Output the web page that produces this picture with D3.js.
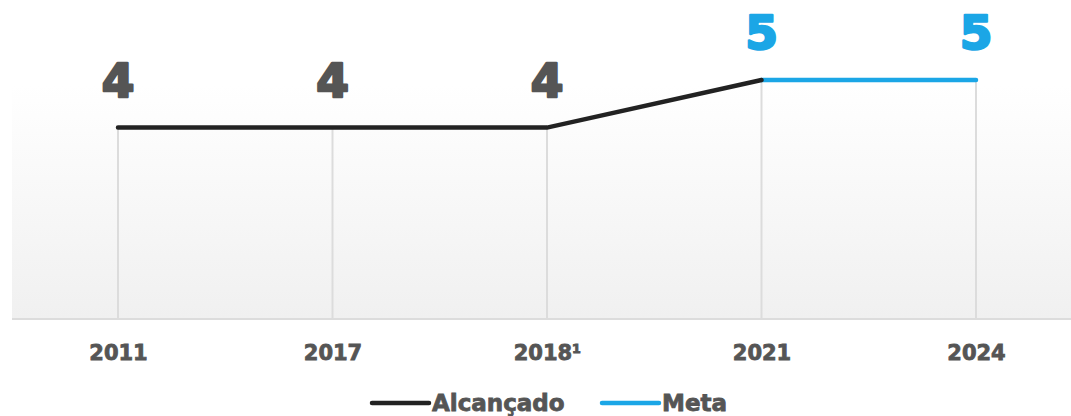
<!DOCTYPE html>
<html>
<head>
<meta charset="utf-8">
<script src="https://cdn.jsdelivr.net/npm/d3@7"></script>
<style>
  body { margin: 0; background: #fff; }
  text { font-family: "DejaVu Sans", "Open Sans", sans-serif; }
</style>
</head>
<body>
<div id="plot"></div>
<script>
var width = 1071, height = 416;

// data
var years = ['2011', '2017', '2018\u00B9', '2021', '2024'];
var alcancado = [4, 4, 4, 5, null];
var meta = [null, null, null, 5, 5];
var legendLabels = ['Alcançado', 'Meta'];
var colors = {alcancado: '#222222', meta: '#1ba6e6', text: '#555555', grid: '#dcdcdc'};

var svg = d3.select('#plot')
  .append('svg')
  .attr('width', width)
  .attr('height', height);

var x = d3.scalePoint()
  .domain(years)
  .range([118, 976]);

var y = d3.scaleLinear()
  .domain([0, 5])
  .range([318, 80]);

// soft grey panel behind the lines
var grad = svg.append('defs').append('linearGradient')
  .attr('id', 'bg')
  .attr('x1', 0).attr('y1', 0).attr('x2', 0).attr('y2', 1);
grad.append('stop').attr('offset', '0%').attr('stop-color', '#ffffff');
grad.append('stop').attr('offset', '100%').attr('stop-color', '#f0f0f0');

svg.append('rect')
  .attr('x', 12)
  .attr('y', 85)
  .attr('width', width - 12)
  .attr('height', y(0) + 1 - 85)
  .attr('fill', 'url(#bg)');

// baseline
svg.append('line')
  .attr('x1', 12).attr('x2', width)
  .attr('y1', y(0) + 1).attr('y2', y(0) + 1)
  .attr('stroke', colors.grid)
  .attr('stroke-width', 2);

// one value per year: achieved where known, otherwise target
var values = years.map(function(d, i) {
  return {year: d, value: alcancado[i] != null ? alcancado[i] : meta[i]};
});

svg.selectAll('.drop')
  .data(values)
  .enter()
  .append('line')
  .attr('class', 'drop')
  .attr('x1', function(d) { return x(d.year); })
  .attr('x2', function(d) { return x(d.year); })
  .attr('y1', function(d) { return y(d.value); })
  .attr('y2', y(0))
  .attr('stroke', colors.grid)
  .attr('stroke-width', 2);

var line = d3.line()
  .defined(function(d) { return d.v != null; })
  .x(function(d) { return x(d.year); })
  .y(function(d) { return y(d.v); });

svg.append('path')
  .datum(years.map(function(d, i) { return {year: d, v: meta[i]}; }))
  .attr('d', line)
  .attr('fill', 'none')
  .attr('stroke', colors.meta)
  .attr('stroke-width', 4.5)
  .attr('stroke-linecap', 'round');

svg.append('path')
  .datum(years.map(function(d, i) { return {year: d, v: alcancado[i]}; }))
  .attr('d', line)
  .attr('fill', 'none')
  .attr('stroke', colors.alcancado)
  .attr('stroke-width', 4.5)
  .attr('stroke-linecap', 'round');

// value labels (a thin stroke thickens the bold face)
svg.selectAll('.val')
  .data(values)
  .enter()
  .append('text')
  .attr('class', 'val')
  .attr('x', function(d) { return x(d.year); })
  .attr('y', function(d) { return y(d.value) - 31; })
  .attr('text-anchor', 'middle')
  .attr('font-size', 47)
  .attr('font-weight', 'bold')
  .attr('fill', function(d, i) { return i >= 3 ? colors.meta : colors.text; })
  .attr('stroke', function(d, i) { return i >= 3 ? colors.meta : colors.text; })
  .attr('stroke-width', 2.5)
  .attr('stroke-linejoin', 'round')
  .text(function(d) { return d.value; });

// x axis labels
var xAxis = d3.axisBottom(x).tickSize(0).tickPadding(0);
var gx = svg.append('g')
  .attr('transform', 'translate(0,' + 344 + ')')
  .call(xAxis);
gx.select('.domain').remove();
gx.selectAll('text')
  .attr('dy', '0.75em')
  .attr('font-size', 21)
  .attr('font-weight', 'bold')
  .attr('fill', colors.text)
  .attr('stroke', colors.text)
  .attr('stroke-width', 0.8)
  .style('font-family', '"DejaVu Sans", sans-serif');

// legend
var legend = [
  {label: legendLabels[0], color: colors.alcancado, x: 372},
  {label: legendLabels[1], color: colors.meta, x: 602}
];
var lg = svg.selectAll('.legend')
  .data(legend)
  .enter()
  .append('g')
  .attr('class', 'legend')
  .attr('transform', function(d) { return 'translate(' + d.x + ',403)'; });
lg.append('line')
  .attr('x1', 0).attr('x2', 57)
  .attr('stroke', function(d) { return d.color; })
  .attr('stroke-width', 4.5)
  .attr('stroke-linecap', 'round');
lg.append('text')
  .attr('x', 60)
  .attr('y', 8)
  .attr('font-size', 23)
  .attr('font-weight', 'bold')
  .attr('fill', colors.text)
  .attr('stroke', colors.text)
  .attr('stroke-width', 0.8)
  .text(function(d) { return d.label; });
</script>
</body>
</html>
